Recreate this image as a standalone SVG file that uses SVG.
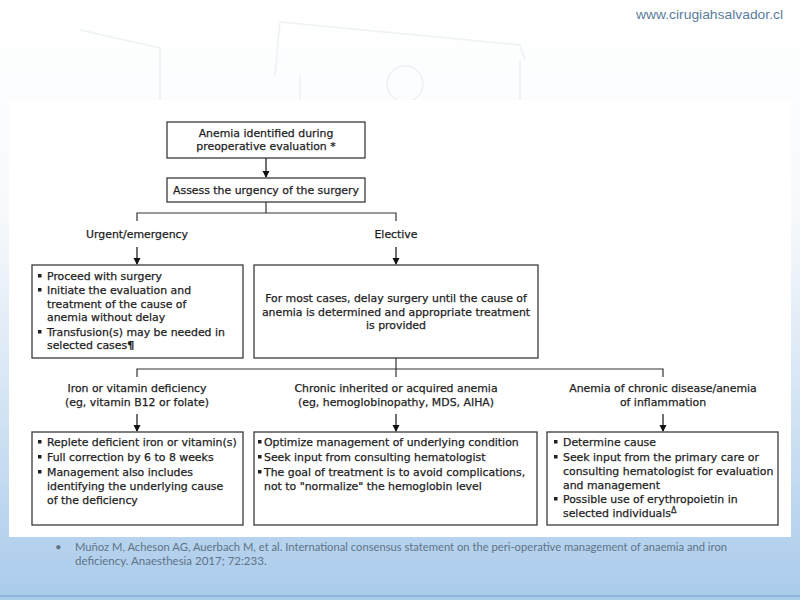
<svg xmlns="http://www.w3.org/2000/svg" width="800" height="600" viewBox="0 0 800 600">
<defs>
<linearGradient id="bg" x1="0" y1="0" x2="0" y2="1">
<stop offset="0" stop-color="#ffffff"/>
<stop offset="0.35" stop-color="#f7fafc"/>
<stop offset="0.6" stop-color="#dde9f6"/>
<stop offset="1" stop-color="#a9cbeb"/>
</linearGradient>
<marker id="ah" markerWidth="8" markerHeight="8" refX="6" refY="3.5" orient="auto" markerUnits="userSpaceOnUse">
<path d="M0,0 L7,3.5 L0,7 Z" fill="#111"/>
</marker>
<style>
.box{fill:#fff;stroke:#3a3a3a;stroke-width:1.3}
.t{font-family:"DejaVu Sans",Verdana,sans-serif;font-size:10.9px;fill:#1e1e1e;stroke:#1e1e1e;stroke-width:0.25}
.c{text-anchor:middle}
.ln{fill:none;stroke:#333;stroke-width:1.2}
.ar{fill:none;stroke:#111;stroke-width:1.2;marker-end:url(#ah)}
.b{fill:#1e1e1e}
.sk{fill:none;stroke:#edf1f5;stroke-width:1.5}
</style>
</defs>
<rect width="800" height="600" fill="url(#bg)"/>
<g id="sketch">
<path class="sk" d="M40 120 L300 150 M35 135 L240 150 M80 30 L160 48 M160 48 L160 140 M280 22 L520 45 L525 60 M280 22 L275 75 M300 75 L300 150 M520 60 L520 150 M600 130 L640 130 M610 140 L640 120"/>
<circle class="sk" cx="405" cy="84" r="18"/>
</g>
<rect x="9" y="100" width="782" height="437" fill="#ffffff"/>
<rect x="0" y="595" width="800" height="2" fill="#8fb4da"/>
<text x="783" y="19" text-anchor="end" font-family="'Liberation Sans Narrow','Liberation Sans',sans-serif" font-size="13" fill="#5b7d9c" textLength="147" lengthAdjust="spacingAndGlyphs">www.cirugiahsalvador.cl</text>

<g id="connectors">
<line class="ar" x1="266" y1="158" x2="266" y2="177"/>
<path class="ln" d="M266 202 V213 M137 221 V213 H396 V221"/>
<line class="ar" x1="137" y1="247" x2="137" y2="264"/>
<line class="ar" x1="396" y1="247" x2="396" y2="264"/>
<path class="ln" d="M396 358 V377 M137 377 V369 H663 V377"/>
<line class="ar" x1="137" y1="414" x2="137" y2="431"/>
<line class="ar" x1="396" y1="414" x2="396" y2="431"/>
<line class="ar" x1="663" y1="414" x2="663" y2="431"/>
</g>

<g id="start">
<rect class="box" x="167" y="122" width="198" height="36"/>
<text class="t c" x="266" y="137">Anemia identified during</text>
<text class="t c" x="266" y="150">preoperative evaluation *</text>
</g>
<g id="assess">
<rect class="box" x="167" y="178" width="198" height="24"/>
<text class="t c" x="266" y="194">Assess the urgency of the surgery</text>
</g>
<g id="label-urgent"><text class="t c" x="137" y="238">Urgent/emergency</text></g>
<g id="label-elective"><text class="t c" x="396" y="238">Elective</text></g>

<g id="urgent">
<rect class="box" x="32" y="265" width="211" height="93"/>
<rect class="b" x="38" y="274" width="3.5" height="3.5"/>
<rect class="b" x="38" y="288" width="3.5" height="3.5"/>
<rect class="b" x="38" y="330" width="3.5" height="3.5"/>
<text class="t" x="47" y="280">Proceed with surgery</text>
<text class="t" x="47" y="294">Initiate the evaluation and</text>
<text class="t" x="47" y="308">treatment of the cause of</text>
<text class="t" x="47" y="321">anemia without delay</text>
<text class="t" x="47" y="336">Transfusion(s) may be needed in</text>
<text class="t" x="47" y="349">selected cases<tspan font-weight="bold">¶</tspan></text>
</g>
<g id="elective">
<rect class="box" x="254" y="265" width="284" height="93"/>
<text class="t c" x="396" y="302">For most cases, delay surgery until the cause of</text>
<text class="t c" x="396" y="316">anemia is determined and appropriate treatment</text>
<text class="t c" x="396" y="329">is provided</text>
</g>

<g id="label-iron">
<text class="t c" x="137" y="392">Iron or vitamin deficiency</text>
<text class="t c" x="137" y="406">(eg, vitamin B12 or folate)</text>
</g>
<g id="label-chronic">
<text class="t c" x="396" y="392">Chronic inherited or acquired anemia</text>
<text class="t c" x="396" y="406">(eg, hemoglobinopathy, MDS, AIHA)</text>
</g>
<g id="label-inflammation">
<text class="t c" x="663" y="392">Anemia of chronic disease/anemia</text>
<text class="t c" x="663" y="406">of inflammation</text>
</g>

<g id="iron">
<rect class="box" x="32" y="432" width="211" height="93"/>
<rect class="b" x="38" y="440" width="3.5" height="3.5"/>
<rect class="b" x="38" y="455" width="3.5" height="3.5"/>
<rect class="b" x="38" y="470" width="3.5" height="3.5"/>
<text class="t" x="47" y="446">Replete deficient iron or vitamin(s)</text>
<text class="t" x="47" y="461">Full correction by 6 to 8 weeks</text>
<text class="t" x="47" y="476">Management also includes</text>
<text class="t" x="47" y="490">identifying the underlying cause</text>
<text class="t" x="47" y="504">of the deficiency</text>
</g>
<g id="chronic">
<rect class="box" x="254" y="432" width="283" height="93"/>
<rect class="b" x="258" y="440" width="3.5" height="3.5"/>
<rect class="b" x="258" y="455" width="3.5" height="3.5"/>
<rect class="b" x="258" y="470" width="3.5" height="3.5"/>
<text class="t" x="264" y="446">Optimize management of underlying condition</text>
<text class="t" x="264" y="461">Seek input from consulting hematologist</text>
<text class="t" x="264" y="476">The goal of treatment is to avoid complications,</text>
<text class="t" x="264" y="490">not to "normalize" the hemoglobin level</text>
</g>
<g id="inflammation">
<rect class="box" x="547" y="432" width="231" height="93"/>
<rect class="b" x="554" y="440" width="3.5" height="3.5"/>
<rect class="b" x="554" y="455" width="3.5" height="3.5"/>
<rect class="b" x="554" y="497" width="3.5" height="3.5"/>
<text class="t" x="563" y="446">Determine cause</text>
<text class="t" x="563" y="461">Seek input from the primary care or</text>
<text class="t" x="563" y="475">consulting hematologist for evaluation</text>
<text class="t" x="563" y="489">and management</text>
<text class="t" x="563" y="503">Possible use of erythropoietin in</text>
<text class="t" x="563" y="517">selected individuals<tspan font-size="8" dy="-4">Δ</tspan></text>
</g>

<g id="citation" font-family="Lato,'Open Sans',sans-serif" font-size="11.5" fill="#5f7386">
<text x="55" y="551">•</text>
<text x="75" y="551" textLength="652" lengthAdjust="spacingAndGlyphs">Muñoz M, Acheson AG, Auerbach M, et al. International consensus statement on the peri-operative management of anaemia and iron</text>
<text x="75" y="565">deficiency. Anaesthesia 2017; 72:233.</text>
</g>
</svg>
